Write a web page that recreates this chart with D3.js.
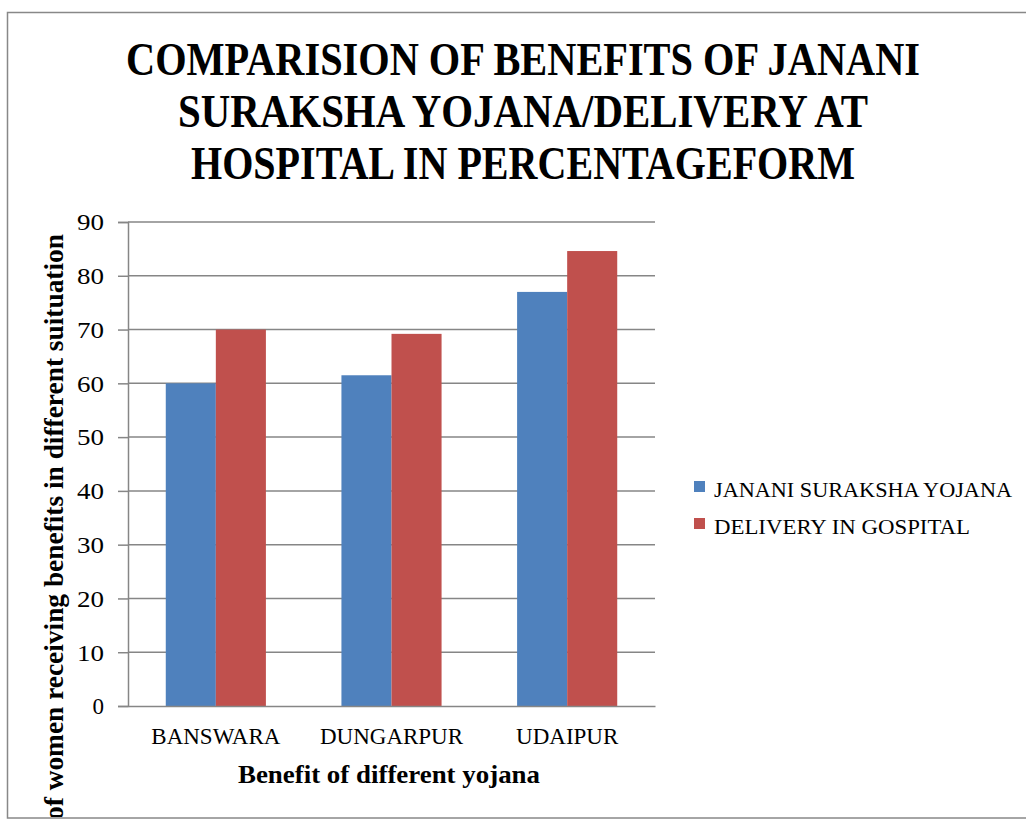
<!DOCTYPE html>
<html>
<head>
<meta charset="utf-8">
<script src="https://cdn.jsdelivr.net/npm/d3@7"></script>
<style>
  html, body { margin: 0; padding: 0; background: #fff; }
  svg { display: block; }
</style>
</head>
<body>
<svg id="chart" width="1026" height="821"></svg>
<script>
// Districts on the x axis
const categories = ["BANSWARA", "DUNGARPUR", "UDAIPUR"];
// Series names and their percentages per district
const seriesNames = ["JANANI SURAKSHA YOJANA", "DELIVERY IN GOSPITAL"];
const jananiValues = [60, 61.5, 77];
const deliveryValues = [70, 69.2, 84.6];
const yTicks = [0, 10, 20, 30, 40, 50, 60, 70, 80, 90];
const titleLines = [
  "COMPARISION OF BENEFITS OF JANANI",
  "SURAKSHA YOJANA/DELIVERY AT",
  "HOSPITAL IN PERCENTAGEFORM"
];
const xTitle = "Benefit of different yojana";
const yTitle = "% of women receiving benefits in different suituation";

const colors = ["#4F81BD", "#C0504D"];
const seriesValues = [jananiValues, deliveryValues];
const serif = "'Liberation Serif', 'DejaVu Serif', serif";

const svg = d3.select("#chart");

// outer frame of the chart area
svg.append("rect")
  .attr("x", 7.5).attr("y", 12.5)
  .attr("width", 1040).attr("height", 805.5)
  .attr("fill", "#fff")
  .attr("stroke", "#888").attr("stroke-width", 1.5);

svg.append("clipPath").attr("id", "frameClip")
  .append("rect").attr("x", 8).attr("y", 13).attr("width", 1040).attr("height", 804);

// title, each line squeezed to its set width
const titleBase = [75, 127, 179];
const titleWidths = [794, 690, 664];
const titleCx = 523;
svg.append("g").selectAll("text").data(titleLines).join("text")
  .attr("x", titleCx)
  .attr("y", (d, i) => titleBase[i])
  .attr("text-anchor", "middle")
  .attr("font-family", serif)
  .attr("font-weight", "bold")
  .attr("font-size", 47)
  .attr("textLength", (d, i) => titleWidths[i])
  .attr("lengthAdjust", "spacingAndGlyphs")
  .attr("fill", "#000")
  .text(d => d);

// plot area
const plot = { left: 128, right: 655, top: 222, bottom: 706 };

const x0 = d3.scaleBand()
  .domain(categories)
  .range([plot.left, plot.right])
  .paddingInner(0.43)
  .paddingOuter(0.215);

const x1 = d3.scaleBand()
  .domain(d3.range(seriesNames.length))
  .range([0, x0.bandwidth()]);

const y = d3.scaleLinear().domain([0, 90]).range([plot.bottom, plot.top]);

// gridlines
svg.append("g").selectAll("line").data(yTicks.filter(t => t > 0)).join("line")
  .attr("x1", plot.left).attr("x2", plot.right)
  .attr("y1", d => y(d)).attr("y2", d => y(d))
  .attr("stroke", "#868686").attr("stroke-width", 1.5);

// bars
const groups = svg.append("g").selectAll("g").data(categories).join("g")
  .attr("transform", d => `translate(${x0(d)},0)`);

groups.selectAll("rect")
  .data((d, ci) => seriesValues.map((vals, si) => ({ si, v: vals[ci] })))
  .join("rect")
  .attr("x", d => x1(d.si))
  .attr("width", x1.bandwidth())
  .attr("y", d => y(d.v))
  .attr("height", d => y(0) - y(d.v))
  .attr("fill", d => colors[d.si]);

// y axis
const yAxis = svg.append("g")
  .attr("transform", `translate(${plot.left},0)`)
  .call(d3.axisLeft(y).tickValues(yTicks).tickSize(10).tickPadding(14));
yAxis.select(".domain").attr("stroke", "#868686").attr("stroke-width", 1.5);
yAxis.selectAll(".tick line").attr("stroke", "#868686").attr("stroke-width", 1.5);
yAxis.selectAll(".tick text")
  .attr("font-family", serif).attr("font-size", 23).attr("fill", "#000")
  .attr("dy", "0.34em")
  .attr("textLength", 27).attr("lengthAdjust", "spacingAndGlyphs")
  .filter(d => d === 0).attr("textLength", null);

// x axis
const xAxis = svg.append("g")
  .attr("transform", `translate(0,${plot.bottom})`)
  .call(d3.axisBottom(x0).tickSize(0).tickPadding(24).tickSizeOuter(0));
xAxis.select(".domain").attr("stroke", "#868686").attr("stroke-width", 1.5);
xAxis.selectAll(".tick text")
  .attr("font-family", serif).attr("font-size", 23).attr("fill", "#000")
  .attr("dy", "0.6em");

// axis titles
svg.append("text")
  .attr("x", 389).attr("y", 783)
  .attr("text-anchor", "middle")
  .attr("font-family", serif).attr("font-weight", "bold").attr("font-size", 25)
  .attr("textLength", 302).attr("lengthAdjust", "spacingAndGlyphs")
  .text(xTitle);

const yTitleText = svg.append("g").attr("clip-path", "url(#frameClip)")
  .append("text")
  .attr("transform", "translate(63,234) rotate(-90)")
  .attr("text-anchor", "end")
  .attr("font-family", serif).attr("font-weight", "bold").attr("font-size", 27)
  .text(yTitle);
// stretch so the words after "% " run from the top of the axis down to the frame
{
  const node = yTitleText.node();
  const full = node.getComputedTextLength();
  const lead = node.getSubStringLength(0, 2);
  const k = 586 / (full - lead);
  yTitleText.attr("textLength", full * k).attr("lengthAdjust", "spacingAndGlyphs");
}

// legend
const legend = svg.append("g").selectAll("g").data(seriesNames).join("g")
  .attr("transform", (d, i) => `translate(694,${481 + i * 37})`);
legend.append("rect")
  .attr("width", 11).attr("height", 11)
  .attr("fill", (d, i) => colors[i]);
legend.append("text")
  .attr("x", 20).attr("y", 16)
  .attr("font-family", serif).attr("font-size", 22).attr("fill", "#000")
  .attr("textLength", (d, i) => [298, 256][i]).attr("lengthAdjust", "spacingAndGlyphs")
  .text(d => d);
</script>
</body>
</html>
